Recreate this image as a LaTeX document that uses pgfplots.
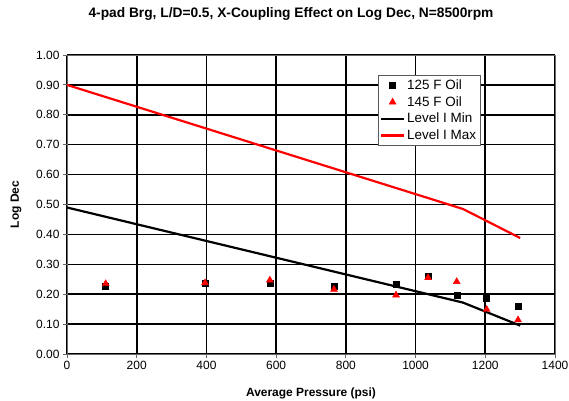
\documentclass[border=0pt]{standalone}
\usepackage{pgfplots}
\pgfplotsset{compat=1.18}
\usepackage{fontspec}
\setmainfont{Liberation Sans}
\pgfplotsset{
  legend image code/.code={\draw[mark repeat=2,mark phase=2,#1] plot coordinates {(0bp,0bp) (11.5bp,0bp) (23bp,0bp)};},
}
\begin{document}
\begin{tikzpicture}
\begin{axis}[
  scale only axis,
  width=488bp, height=299bp,
  xmin=0, xmax=1400, ymin=0, ymax=1,
  xtick={0,200,...,1400},
  ytick={0,0.1,...,1.0},
  yticklabel style={/pgf/number format/.cd, fixed, fixed zerofill, precision=2},
  /pgf/number format/assume math mode=true,
  /pgf/number format/1000 sep={},
  tick label style={font=\fontsize{12}{14}\selectfont},
  grid=major,
  major grid style={black, line width=1.6pt},
  axis line style={gray!80!black, line width=0.8pt},
  tick style={gray!80!black, line width=0.8pt},
  tick align=outside,
  major tick length=4bp,
  xtick pos=bottom, ytick pos=left,
  title={\bfseries 4-pad Brg, L/D=0.5, X-Coupling Effect on Log Dec, N=8500rpm},
  title style={font=\fontsize{13.8}{15}\selectfont, at={(0.5,1)}, anchor=base, yshift=32bp, xshift=-20bp},
  xlabel={\bfseries Average Pressure (psi)},
  ylabel={\bfseries Log Dec},
  xlabel style={font=\fontsize{12}{14}\selectfont, at={(0.5,0)}, anchor=base, yshift=-42bp},
  ylabel style={font=\fontsize{12}{14}\selectfont, at={(axis description cs:-0.0984,0.5)}, anchor=base},
  legend style={at={(0.637,0.933)}, anchor=north west, draw=gray!70!black, fill=white,
    font=\fontsize{13.5}{15}\selectfont, row sep=1.5bp, inner ysep=2.5bp, inner xsep=2bp},
  legend cell align=left,
  clip=false,
]
\addplot[only marks, mark=square*, mark size=3bp, black] coordinates {
 (111,0.227) (396,0.238) (582,0.238) (766,0.227) (944,0.234) (1036,0.259) (1118,0.198) (1204,0.188) (1294,0.160)};
\addlegendentry{125 F Oil}
\addplot[only marks, mark=triangle*, mark size=4bp, red] coordinates {
 (111,0.235) (396,0.238) (582,0.247) (766,0.216) (944,0.197) (1036,0.255) (1118,0.242) (1204,0.149) (1294,0.114)};
\addlegendentry{145 F Oil}
\addplot[black, line width=2.2pt, no marks] coordinates {(0,0.49) (1136,0.172) (1300,0.095)};
\addlegendentry{Level I Min}
\addplot[red, line width=2.2pt, no marks] coordinates {(0,0.90) (1136,0.485) (1300,0.388)};
\addlegendentry{Level I Max}
\coordinate (sw) at (rel axis cs:0,0);
\coordinate (ne) at (rel axis cs:1,1);
\end{axis}
\pgfresetboundingbox
\path ([shift={(-67bp,-47bp)}]sw) rectangle ([shift={(14bp,55bp)}]ne);
\end{tikzpicture}
\end{document}
